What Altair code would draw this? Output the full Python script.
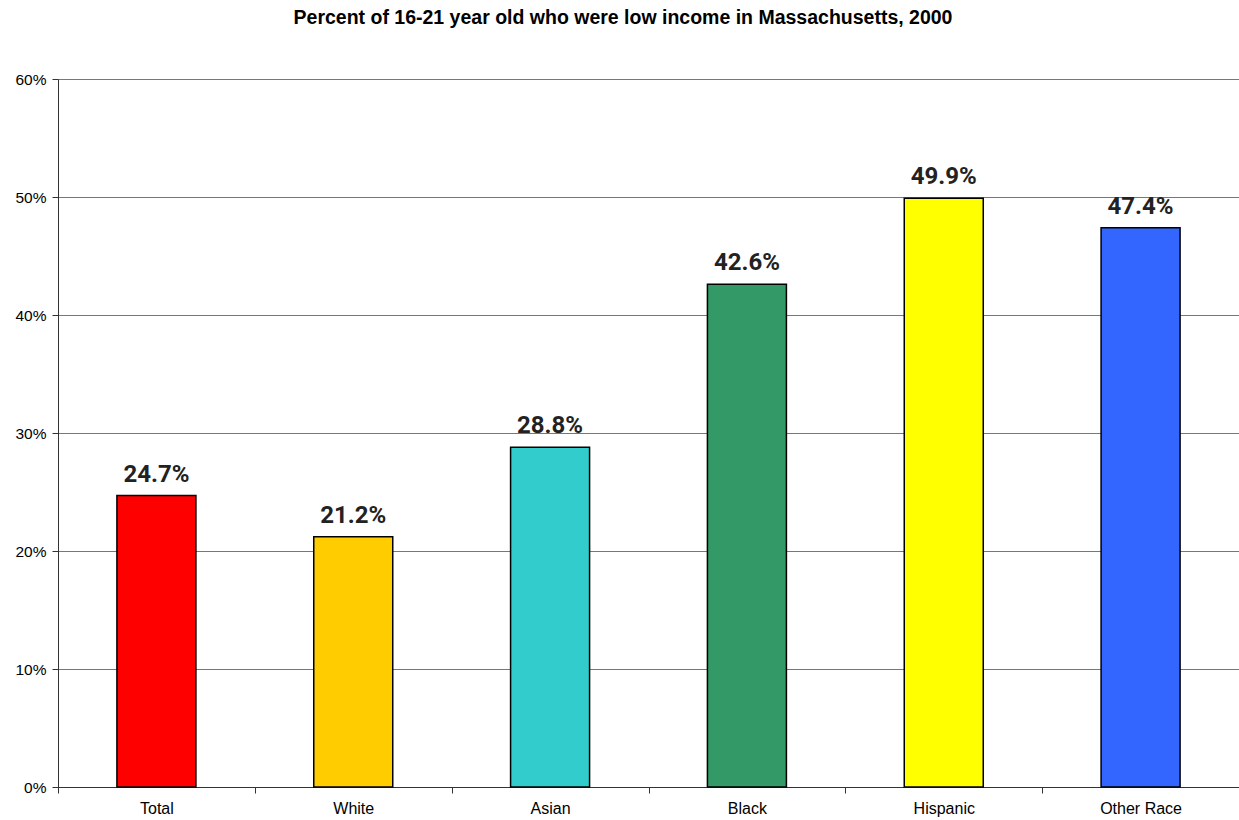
import altair as alt
import pandas as pd

categories = ["Total", "White", "Asian", "Black", "Hispanic", "Other Race"]
values = [0.247, 0.212, 0.288, 0.426, 0.499, 0.474]
labels = ["24.7%", "21.2%", "28.8%", "42.6%", "49.9%", "47.4%"]
colors = ["#FF0000", "#FFCC00", "#33CCCC", "#339966", "#FFFF00", "#3366FF"]
title_text = "Percent of 16-21 year old who were low income in Massachusetts, 2000"

df = pd.DataFrame({"cat": categories, "val": values, "lab": labels})

x = alt.X("cat:N", sort=categories, title=None,
          scale=alt.Scale(paddingInner=0, paddingOuter=0),
          axis=alt.Axis(labelAngle=0, tickBand="extent", grid=False,
                        labelFont="Liberation Sans", labelFontSize=16,
                        labelColor="#000", labelPadding=7, tickSize=6,
                        tickColor="#333", domainColor="#333"))
y = alt.Y("val:Q", title=None,
          scale=alt.Scale(domain=[0, 0.6], nice=False),
          axis=alt.Axis(format=".0%", values=[0, 0.1, 0.2, 0.3, 0.4, 0.5, 0.6],
                        labelFont="Liberation Sans", labelFontSize=15.5,
                        labelColor="#000", labelPadding=6, tickSize=6,
                        tickColor="#333", domainColor="#333",
                        gridColor="#777", gridWidth=1, gridOpacity=1))

bars = alt.Chart(df).mark_bar(size=79, stroke="#000", strokeWidth=1.5).encode(
    x=x, y=y,
    color=alt.Color("cat:N", scale=alt.Scale(domain=categories, range=colors), legend=None),
)

text = alt.Chart(df).mark_text(baseline="bottom", dy=-9, font="Roboto",
                               fontWeight="bold", fontSize=24, color="#222").encode(
    x=alt.X("cat:N", sort=categories), y="val:Q", text="lab:N")

title = alt.Chart(pd.DataFrame({"t": [title_text]})).mark_text(
    font="Liberation Sans", fontWeight="bold", fontSize=19.5, color="#000",
    align="center", baseline="alphabetic").encode(
    x=alt.value(565), y=alt.value(-55), text="t:N")

chart = alt.layer(bars, text, title).properties(
    width=1181, height=708,
    autosize=alt.AutoSizeParams(type="none"),
    padding={"left": 58, "top": 79, "right": 0, "bottom": 33},
).configure_view(stroke=None).configure(background="#FFFFFF")

chart.save("out.html", embed_options={"renderer": "svg", "actions": False})
